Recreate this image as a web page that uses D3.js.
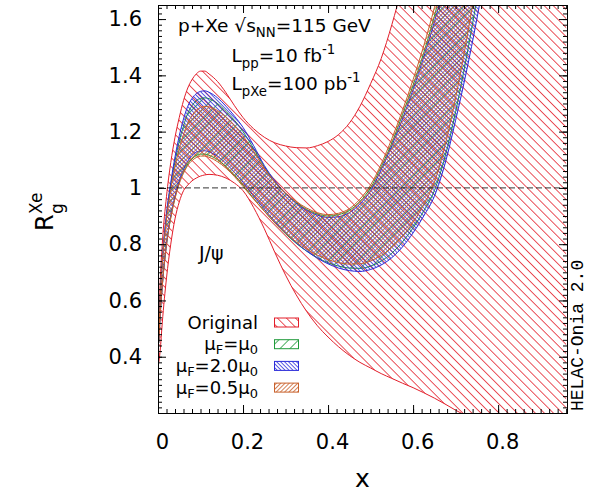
<!DOCTYPE html>
<html>
<head>
<meta charset="utf-8">
<title>R_g Xe</title>
<script src="https://d3js.org/d3.v7.min.js"></script>
<style>
  body { margin: 0; background: #fff; }
  text { font-family: "DejaVu Sans", sans-serif; fill: #000; }
  text.mono { font-family: "Liberation Mono", "Courier New", monospace; }
</style>
</head>
<body>
<script>
// x grid shared by all curves
const xGrid = [0.002, 0.005, 0.01, 0.02, 0.03, 0.04, 0.05, 0.06, 0.07, 0.08, 0.09, 0.1, 0.11, 0.12,
  0.14, 0.16, 0.18, 0.2, 0.225, 0.25, 0.275, 0.3, 0.325, 0.35, 0.375, 0.4, 0.425, 0.45, 0.475, 0.5,
  0.525, 0.55, 0.575, 0.6, 0.625, 0.65, 0.675, 0.7, 0.725, 0.75, 0.8, 0.85, 0.9, 0.96];

// Original band
const origUp = [0.52, 0.66, 0.80, 0.97, 1.09, 1.18, 1.25, 1.31, 1.355, 1.385, 1.405, 1.415, 1.415, 1.405,
  1.378, 1.338, 1.292, 1.25, 1.21, 1.18, 1.16, 1.149, 1.143, 1.142, 1.15, 1.165, 1.19, 1.23, 1.29, 1.37,
  1.46, 1.58, 1.72, 1.88, 2.05, 2.25, 2.45, 2.7, 2.95, 3.2, 3.8, 4.5, 5.2, 6.0];
const origLo = [0.38, 0.42, 0.52, 0.68, 0.80, 0.89, 0.95, 0.99, 1.01, 1.025, 1.035, 1.042, 1.046, 1.048,
  1.045, 1.035, 1.017, 0.99, 0.93, 0.855, 0.77, 0.69, 0.62, 0.56, 0.51, 0.47, 0.435, 0.405, 0.38, 0.36,
  0.34, 0.323, 0.306, 0.29, 0.272, 0.253, 0.232, 0.21, 0.19, 0.17, 0.12, 0.07, 0.02, -0.05];

// muF = mu0
const muF1Up = [0.47, 0.60, 0.735, 0.90, 1.01, 1.095, 1.165, 1.22, 1.265, 1.292, 1.31, 1.318, 1.32, 1.317,
  1.30, 1.272, 1.24, 1.20, 1.14, 1.075, 1.02, 0.98, 0.948, 0.923, 0.907, 0.90, 0.905, 0.92, 0.952, 1.0,
  1.075, 1.16, 1.26, 1.365, 1.48, 1.61, 1.76, 1.92, 2.08, 2.25, 2.6, 3.0, 3.4, 3.9];
const muF1Lo = [0.45, 0.545, 0.65, 0.80, 0.895, 0.965, 1.02, 1.057, 1.085, 1.103, 1.115, 1.12, 1.12, 1.116,
  1.10, 1.076, 1.045, 1.01, 0.962, 0.918, 0.875, 0.837, 0.803, 0.775, 0.752, 0.734, 0.722, 0.715, 0.714, 0.722,
  0.74, 0.768, 0.808, 0.858, 0.918, 0.99, 1.11, 1.27, 1.46, 1.67, 2.12, 2.6, 3.1, 3.7];

// muF = 2.0 mu0
const muF2Up = [0.47, 0.60, 0.74, 0.91, 1.02, 1.11, 1.185, 1.245, 1.29, 1.318, 1.335, 1.343, 1.345, 1.34,
  1.32, 1.29, 1.255, 1.215, 1.15, 1.08, 1.025, 0.98, 0.945, 0.92, 0.903, 0.895, 0.898, 0.912, 0.943, 0.99,
  1.065, 1.15, 1.245, 1.35, 1.465, 1.59, 1.73, 1.88, 2.04, 2.21, 2.56, 2.95, 3.35, 3.85];
const muF2Lo = [0.45, 0.54, 0.65, 0.80, 0.90, 0.97, 1.025, 1.065, 1.095, 1.115, 1.127, 1.131, 1.132, 1.128,
  1.112, 1.087, 1.055, 1.02, 0.97, 0.925, 0.88, 0.84, 0.805, 0.775, 0.75, 0.73, 0.715, 0.706, 0.703, 0.71,
  0.726, 0.752, 0.79, 0.84, 0.9, 0.97, 1.085, 1.24, 1.41, 1.6, 2.05, 2.55, 3.05, 3.65];

// muF = 0.5 mu0
const muF05Up = [0.47, 0.60, 0.73, 0.89, 0.995, 1.075, 1.14, 1.19, 1.23, 1.257, 1.276, 1.286, 1.29, 1.288,
  1.275, 1.252, 1.222, 1.185, 1.13, 1.07, 1.02, 0.982, 0.952, 0.928, 0.912, 0.905, 0.91, 0.926, 0.96, 1.01,
  1.085, 1.175, 1.275, 1.385, 1.505, 1.64, 1.79, 1.95, 2.11, 2.28, 2.64, 3.02, 3.42, 3.92];
const muF05Lo = [0.45, 0.545, 0.65, 0.80, 0.893, 0.962, 1.015, 1.052, 1.08, 1.097, 1.108, 1.113, 1.113, 1.109,
  1.093, 1.07, 1.04, 1.005, 0.96, 0.917, 0.876, 0.84, 0.808, 0.782, 0.761, 0.745, 0.734, 0.729, 0.73, 0.74,
  0.76, 0.788, 0.828, 0.878, 0.94, 1.02, 1.15, 1.32, 1.52, 1.74, 2.2, 2.7, 3.2, 3.8];

const legendLabels = ["Original", "μ_F=μ_0", "μ_F=2.0μ_0", "μ_F=0.5μ_0"];
const xTicks = [0, 0.2, 0.4, 0.6, 0.8];
const xTickLabels = ["0", "0.2", "0.4", "0.6", "0.8"];
const yTicks = [0.4, 0.6, 0.8, 1, 1.2, 1.4, 1.6];
const yTickLabels = ["0.4", "0.6", "0.8", "1", "1.2", "1.4", "1.6"];

const svgWidth = 592, svgHeight = 494;
const L = 158, R = 567, T = 5, B = 413;

const svg = d3.select("body").append("svg")
  .attr("width", svgWidth)
  .attr("height", svgHeight);

const x = d3.scaleLinear().domain([0, 0.962]).range([L, R]);
const y = d3.scaleLinear().domain([0.2, 1.65]).range([B, T]);

const defs = svg.append("defs");
defs.append("clipPath").attr("id", "plot-clip")
  .append("rect").attr("x", L).attr("y", T).attr("width", R - L).attr("height", B - T);

// hatch patterns: angle 45 -> "\", -45 -> "/"
function hatch(id, color, gap, angle) {
  const p = defs.append("pattern")
    .attr("id", id)
    .attr("patternUnits", "userSpaceOnUse")
    .attr("width", 10).attr("height", gap)
    .attr("patternTransform", `rotate(${angle})`);
  p.append("line")
    .attr("x1", 0).attr("x2", 10)
    .attr("y1", gap / 2).attr("y2", gap / 2)
    .attr("stroke", color).attr("stroke-width", 0.8);
}

const bands = [
  { id: "orig", up: origUp, lo: origLo, color: "#e31e2a", gap: 6.4, angle: 45 },
  { id: "f1", up: muF1Up, lo: muF1Lo, color: "#1f9a3a", gap: 7, angle: -45 },
  { id: "f2", up: muF2Up, lo: muF2Lo, color: "#2b2bd9", gap: 2.8, angle: 45 },
  { id: "f05", up: muF05Up, lo: muF05Lo, color: "#c9612c", gap: 3, angle: -45 }
];
bands.forEach(b => hatch("pat-" + b.id, b.color, b.gap, b.angle));

const plot = svg.append("g").attr("clip-path", "url(#plot-clip)");

bands.forEach(b => {
  const area = d3.area()
    .x((d, i) => x(xGrid[i]))
    .y0((d, i) => y(b.lo[i]))
    .y1((d, i) => y(b.up[i]))
    .curve(d3.curveMonotoneX);
  const line = d3.line()
    .x((d, i) => x(xGrid[i]))
    .y(d => y(d))
    .curve(d3.curveMonotoneX);

  plot.append("path")
    .datum(xGrid)
    .attr("d", area)
    .attr("fill", `url(#pat-${b.id})`);
  [b.up, b.lo].forEach(arr => {
    plot.append("path")
      .datum(arr)
      .attr("d", line)
      .attr("fill", "none")
      .attr("stroke", b.color)
      .attr("stroke-width", 1);
  });
});

// dashed line at 1
plot.append("line")
  .attr("x1", L).attr("x2", R)
  .attr("y1", y(1)).attr("y2", y(1))
  .attr("stroke", "#000").attr("stroke-width", 0.8)
  .attr("stroke-dasharray", "6,3");

// axes with inward ticks on all four sides
const xMinor = d3.range(0, 49).map(i => i * 0.02);
const yMinor = d3.range(0, 73).map(i => 0.2 + i * 0.02);

function axisGroup(axis, tx, ty) {
  const g = svg.append("g").attr("transform", `translate(${tx},${ty})`).call(axis);
  g.select(".domain").remove();
  g.attr("font-size", 21);
  return g;
}

axisGroup(d3.axisBottom(x).tickValues(xMinor).tickSize(-4).tickFormat(""), 0, B);
axisGroup(d3.axisTop(x).tickValues(xMinor).tickSize(-4).tickFormat(""), 0, T);
axisGroup(d3.axisLeft(y).tickValues(yMinor).tickSize(-4).tickFormat(""), L, 0);
axisGroup(d3.axisRight(y).tickValues(yMinor).tickSize(-4).tickFormat(""), R, 0);

const gxb = axisGroup(d3.axisBottom(x).tickValues(xTicks).tickSize(-8).tickPadding(21)
  .tickFormat((d, i) => xTickLabels[i]), 0, B);
gxb.selectAll("text").attr("dx", 4);
axisGroup(d3.axisTop(x).tickValues(xTicks).tickSize(-8).tickFormat(""), 0, T);
axisGroup(d3.axisLeft(y).tickValues(yTicks).tickSize(-8).tickPadding(16)
  .tickFormat((d, i) => yTickLabels[i]), L, 0);
axisGroup(d3.axisRight(y).tickValues(yTicks).tickSize(-8).tickFormat(""), R, 0);

svg.append("rect")
  .attr("x", L + 0.5).attr("y", T + 0.5)
  .attr("width", R - L).attr("height", B - T)
  .attr("fill", "none").attr("stroke", "#000").attr("stroke-width", 1);

// text with _sub and ^super
function rich(sel, str, fs, subDrop) {
  const re = /([_^])\{([^}]*)\}|([_^])(.)|([^_^]+)/g;
  let m, shift = 0;
  while ((m = re.exec(str))) {
    let s, size = fs, target = 0;
    if (m[5] !== undefined) {
      s = m[5];
    } else {
      const kind = m[1] || m[3];
      s = m[2] !== undefined ? m[2] : m[4];
      size = fs * 0.72;
      target = kind === "_" ? fs * subDrop : -fs * 0.42;
    }
    sel.append("tspan").attr("dy", target - shift).attr("font-size", size).text(s);
    shift = target;
  }
}

function label(str, tx, ty, fs, anchor, subDrop) {
  const t = svg.append("text")
    .attr("x", tx).attr("y", ty)
    .attr("font-size", fs)
    .attr("text-anchor", anchor || "start");
  rich(t, str, fs, subDrop || 0.3);
  return t;
}

label("p+Xe √s_{NN}=115 GeV", 178, 31.5, 18.5);
label("L_{pp}=10 fb^{-1}", 231.5, 62, 18.5);
label("L_{pXe}=100 pb^{-1}", 231.5, 90, 18.5);
label("J/ψ", 199, 260, 19);

// legend
legendLabels.forEach((lab, i) => {
  const cy = 322.5 + i * 21.7;
  label(lab, 258, cy + 6, 18, "end", 0.22);
  svg.append("rect")
    .attr("x", 274.5).attr("y", cy - 4.5)
    .attr("width", 24).attr("height", 9)
    .attr("fill", `url(#pat-${bands[i].id})`)
    .attr("stroke", bands[i].color).attr("stroke-width", 1);
});

// axis titles
svg.append("text")
  .attr("x", (L + R) / 2).attr("y", 487)
  .attr("text-anchor", "middle")
  .attr("font-size", 25)
  .text("x");

const yl = svg.append("g").attr("transform", "translate(53,231) rotate(-90)");
yl.append("text").attr("font-size", 24).text("R");
yl.append("text").attr("x", 17).attr("y", 10).attr("font-size", 17).text("g");
yl.append("text").attr("x", 17).attr("y", -11).attr("font-size", 17).text("Xe");

svg.append("text")
  .attr("class", "mono")
  .attr("transform", "translate(583,411) rotate(-90)")
  .attr("font-size", 18)
  .text("HELAC-Onia 2.0");
</script>
</body>
</html>
